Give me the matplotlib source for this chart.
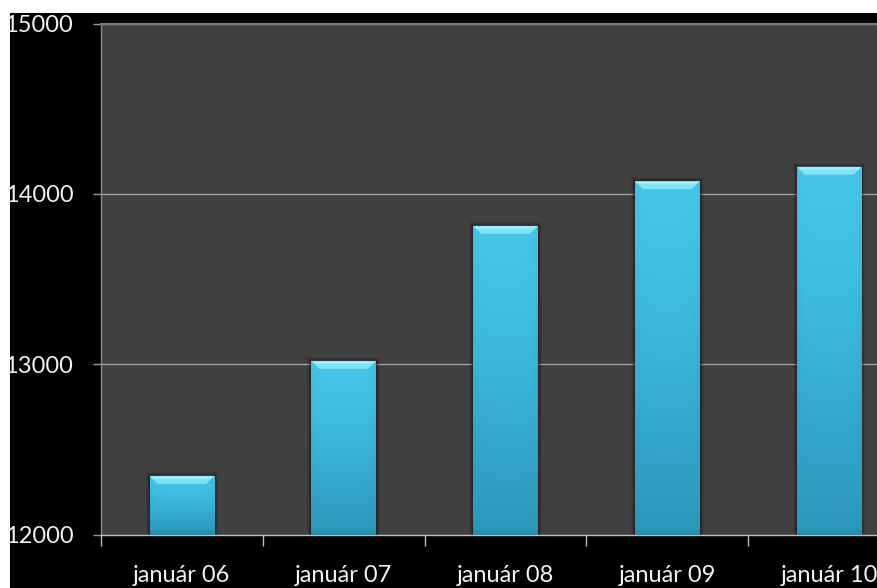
import matplotlib
matplotlib.use("Agg")
import matplotlib.pyplot as plt
import numpy as np
from matplotlib.patches import Rectangle, Polygon
from matplotlib.colors import LinearSegmentedColormap

plt.rcParams['font.family'] = ['Lato', 'DejaVu Sans']

# Data
categories = ["január 06", "január 07", "január 08", "január 09", "január 10"]
values = [12345, 13020, 13813, 14075, 14160]
y_ticks = [12000, 13000, 14000, 15000]

W, H = 877, 588
fig = plt.figure(figsize=(W / 100, H / 100), dpi=100, facecolor="white")

# black chart area background
bg = Rectangle((10 / W, 0), 1 - 10 / W, (H - 13) / H,
               transform=fig.transFigure, facecolor="black",
               edgecolor="none", zorder=-10)
fig.add_artist(bg)

ax_left, ax_right = 101, 910
ax_bottom, ax_top = H - 534.6, H - 23.7
ax = fig.add_axes([ax_left / W, ax_bottom / H, (ax_right - ax_left) / W,
                   (ax_top - ax_bottom) / H])
ax.set_zorder(1)
ax.set_facecolor("#404040")
ax.set_xlim(-0.5, len(categories) - 0.5)
ax.set_ylim(12000, 15000)

x = np.arange(len(categories))
bar_w = 0.40
ymin = 12000

# gridlines
ax.set_yticks(y_ticks)
ax.yaxis.grid(True, color="#a6a6a6", linewidth=0.9, zorder=1)
ax.set_axisbelow(True)

# pixel to data conversions
px_y = 3000 / (ax_top - ax_bottom)
px_x = (len(categories)) / (ax_right - ax_left)

body_cmap = LinearSegmentedColormap.from_list(
    "body", ["#2b97b8", "#34aace", "#3fbde0", "#46c6e8"])

for xi, v in zip(x, values):
    x0, x1 = xi - bar_w / 2, xi + bar_w / 2
    # soft dark halo around each bar
    for k, a in [(4, 0.10), (3, 0.15), (2, 0.22), (1, 0.30)]:
        ax.add_patch(Rectangle((x0 - k * px_x, ymin), bar_w + 2 * k * px_x,
                               v - ymin + k * px_y, facecolor="#1e1212",
                               edgecolor="none", alpha=a, zorder=2))
    # bar body with vertical gradient and darker side edges
    bar = ax.bar(xi, v - ymin, bottom=ymin, width=bar_w, color="#3fbde0",
                 edgecolor="none", zorder=3)[0]
    ny, nx = 200, 60
    vert = np.linspace(0, 1, ny)[:, None]
    horiz = np.linspace(-1, 1, nx)[None, :]
    shade = vert * (1 - 0.18 * np.abs(horiz) ** 6)
    img = ax.imshow(shade, extent=[x0, x1, ymin, v], origin="lower",
                    aspect="auto", cmap=body_cmap, vmin=0, vmax=1,
                    zorder=4, interpolation="bilinear")
    img.set_clip_path(bar)
    # darker band at the base of the bar
    ax.add_patch(Rectangle((x0, ymin), bar_w, 5 * px_y, facecolor="#1f7f9e",
                           edgecolor="none", alpha=0.35, zorder=5))
    # bevelled top face
    bh = 8 * px_y
    inset = 8 * px_x
    top = Polygon([(x0, v), (x1, v), (x1 - inset, v - bh), (x0 + inset, v - bh)],
                  closed=True, facecolor="#7fe3f7", edgecolor="none", zorder=6)
    ax.add_patch(top)
    hl = Polygon([(x0 + 1 * px_x, v - 0.5 * px_y), (x1 - 1 * px_x, v - 0.5 * px_y),
                  (x1 - 3 * px_x, v - 3 * px_y), (x0 + 3 * px_x, v - 3 * px_y)],
                 closed=True, facecolor="#a6f0fb", edgecolor="none", alpha=0.8,
                 zorder=7)
    ax.add_patch(hl)

# axes, ticks and labels
ax.spines["right"].set_visible(False)
ax.spines["left"].set_color("#8c8c8c")
ax.spines["bottom"].set_color("#bdbdbd")
ax.spines["top"].set_color("#7a7a7a")
ax.spines["top"].set_linewidth(1.5)
for s in ["left", "bottom"]:
    ax.spines[s].set_linewidth(1.0)

ax.set_yticklabels([f"{t}" for t in y_ticks])
ax.tick_params(axis="y", colors="#9a9a9a", labelcolor="#f2f2f2",
               length=6, width=1, pad=14, labelsize=17)

ax.set_xticks(x)
ax.set_xticklabels(categories)
ax.set_xticks(np.arange(-0.5, len(categories), 1.0), minor=True)
ax.tick_params(axis="x", which="major", length=0, pad=22,
               labelcolor="#f2f2f2", labelsize=17)
ax.tick_params(axis="x", which="minor", length=8, width=1, color="#bdbdbd")

fig.savefig("out.png", dpi=100, facecolor=fig.get_facecolor())
